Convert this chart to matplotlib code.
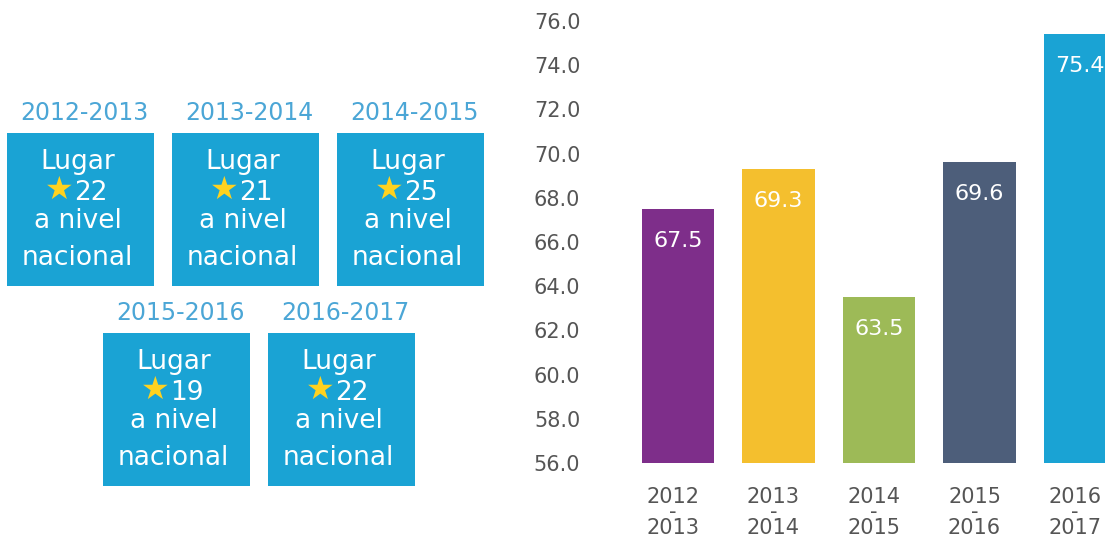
import matplotlib.pyplot as plt
from matplotlib.patches import Rectangle
from matplotlib.transforms import ScaledTranslation

# datos del ranking (panel izquierdo)
ciclos = ['2012-2013', '2013-2014', '2014-2015', '2015-2016', '2016-2017']
lugares = [22, 21, 25, 19, 22]

# datos de la gráfica de barras
etiquetas = ['2012\n-\n2013', '2013\n-\n2014', '2014\n-\n2015', '2015\n-\n2016', '2016\n-\n2017']
valores = [67.5, 69.3, 63.5, 69.6, 75.4]
colores = ['#7E2E8A', '#F4BF2E', '#9DBA57', '#4D5E7A', '#1AA3D4']

azul = '#1AA3D4'
azul_titulo = '#4BA6D6'
gris = '#555555'

plt.rcParams['font.family'] = ['DejaVu Sans']

W, H = 1105, 552
fig = plt.figure(figsize=(W / 100, H / 100), dpi=100)

# --- panel izquierdo, en coordenadas de pixel ---
axl = fig.add_axes([0, 0, 500 / W, 1])
axl.set_xlim(0, 500)
axl.set_ylim(H, 0)
axl.axis('off')

bw, bh = 147, 153
pos = [(7, 133), (172, 133), (337, 133), (103, 333), (268, 333)]
for (x0, y0), ciclo, lugar in zip(pos, ciclos, lugares):
    cx = x0 + bw / 2
    axl.add_patch(Rectangle((x0, y0), bw, bh, color=azul, lw=0))
    axl.text(cx + 4, y0 - 20, ciclo, color=azul_titulo, fontsize=17,
             ha='center', va='center')
    axl.text(cx - 3, y0 + 29, 'Lugar', color='white', fontsize=19, ha='center', va='center')
    axl.text(cx - 21, y0 + 57, '★', color='#FFD21F', fontsize=23, ha='center', va='center')
    axl.text(cx - 6, y0 + 60, str(lugar), color='white', fontsize=19, ha='left', va='center')
    axl.text(cx - 3, y0 + 88, 'a nivel', color='white', fontsize=19, ha='center', va='center')
    axl.text(cx - 3, y0 + 125, 'nacional', color='white', fontsize=19, ha='center', va='center')

# --- grafica de barras ---
left_px, right_px = 590, W
c0, paso = 678, 100.5
ax = fig.add_axes([left_px / W, (H - 463) / H, (right_px - left_px) / W, (463 - 21) / H])
x = range(len(valores))
ax.bar(x, valores, width=0.72, color=colores, bottom=0)
ax.set_xlim((left_px - c0) / paso, (right_px - c0) / paso)
ax.set_ylim(56, 76)
ax.set_yticks(range(56, 77, 2))
ax.set_yticklabels([f'{v:.1f}' for v in range(56, 77, 2)])
ax.set_xticks(list(x))
ax.set_xticklabels(etiquetas, linespacing=0.72)
ax.tick_params(length=0, labelsize=15, labelcolor=gris)
ax.tick_params(axis='x', pad=17)
ax.tick_params(axis='y', pad=7)
for s in ax.spines.values():
    s.set_visible(False)
desplaza = ScaledTranslation(-5 / 100, 0, fig.dpi_scale_trans)
for lab in ax.get_xticklabels():
    lab.set_transform(lab.get_transform() + desplaza)

for i, v in enumerate(valores):
    ax.annotate(f'{v}', xy=(i, v), xytext=(0, -23), textcoords='offset points',
                ha='center', va='center', color='white', fontsize=16)

fig.savefig('out.png', dpi=100)
